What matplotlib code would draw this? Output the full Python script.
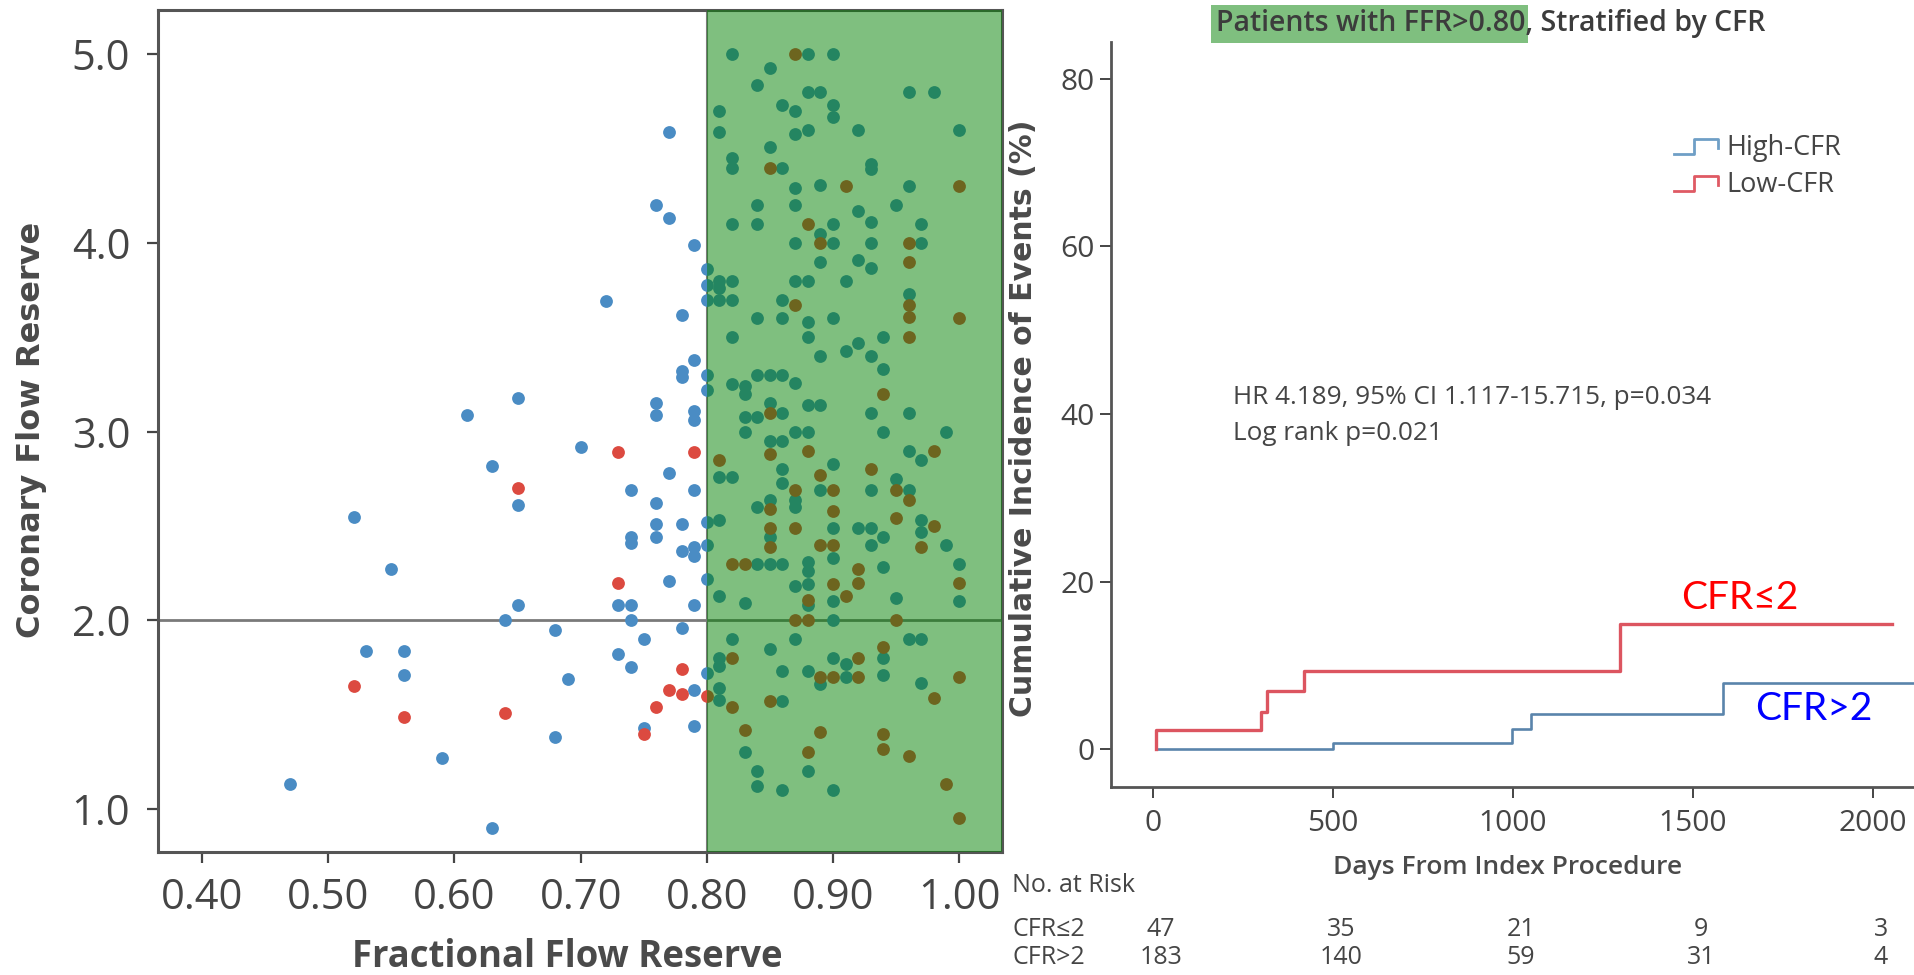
import matplotlib
matplotlib.use("Agg")
import matplotlib.pyplot as plt
from matplotlib import font_manager
from matplotlib.lines import Line2D
from matplotlib.patches import Rectangle

# --- DATA: scatter (FFR vs CFR) ---
# points with event-free outcome (blue) and with events (red)
ffr_blue = [0.77, 0.76, 0.77, 0.79, 0.72, 0.78, 0.80, 0.80, 0.80, 0.79, 0.78, 0.78, 0.80, 0.80,
            0.65, 0.61, 0.76, 0.76, 0.79, 0.79, 0.70, 0.63, 0.77, 0.74, 0.76, 0.79, 0.65, 0.52,
            0.76, 0.76, 0.78, 0.74, 0.74, 0.79, 0.78, 0.79, 0.80, 0.80, 0.55, 0.77, 0.80, 0.65,
            0.73, 0.74, 0.79, 0.64, 0.74, 0.68, 0.78, 0.75, 0.53, 0.56, 0.73, 0.56, 0.74, 0.69,
            0.79, 0.80, 0.75, 0.79, 0.68, 0.59, 0.47, 0.63,
            # FFR > 0.80
            0.82, 0.88, 0.90, 0.85, 0.84, 0.88, 0.89, 0.96, 0.98, 0.86, 0.87, 0.90, 0.90, 0.81,
            0.81, 0.87, 0.88, 0.92, 1.00, 0.85, 0.82, 0.82, 0.86, 0.93, 0.93, 0.87, 0.89, 0.96,
            0.84, 0.87, 0.92, 0.95, 0.82, 0.84, 0.90, 0.93, 0.97, 0.89, 0.87, 0.90, 0.93, 0.97,
            0.89, 0.92, 0.93, 0.81, 0.82, 0.87, 0.88, 0.91, 0.81,
            0.81, 0.82, 0.86, 0.96, 0.84, 0.86, 0.88, 0.90, 0.82, 0.88, 0.94, 0.91, 0.92, 0.93,
            0.89, 0.94, 0.82, 0.83, 0.83, 0.84, 0.85, 0.86, 0.87, 0.85, 0.86, 0.83, 0.84, 0.83,
            0.88, 0.89, 0.93, 0.96, 0.87, 0.88, 0.94, 0.99, 0.85, 0.86, 0.96, 0.97, 0.90, 0.86,
            0.86, 0.81, 0.82, 0.89, 0.93, 0.95, 0.96, 0.84, 0.85, 0.87, 0.87, 0.97, 0.97, 0.81,
            0.85, 0.90, 0.92, 0.93, 0.94, 0.93, 0.99,
            0.84, 0.85, 0.86, 0.88, 0.88, 0.90, 0.94, 1.00, 1.00, 0.87, 0.88, 0.81, 0.83, 0.88,
            0.90, 0.95, 0.90, 0.82, 0.87, 0.85, 0.96, 0.97, 0.81, 0.81, 0.90, 0.91, 0.94, 0.86,
            0.88, 0.89, 0.91, 0.94, 0.97, 0.81, 0.81, 0.86, 0.83, 0.84, 0.88, 0.84, 0.86, 0.90]
cfr_blue = [4.59, 4.20, 4.13, 3.99, 3.69, 3.62, 3.86, 3.78, 3.70, 3.38, 3.32, 3.29, 3.30, 3.22,
            3.18, 3.09, 3.15, 3.09, 3.11, 3.06, 2.92, 2.82, 2.78, 2.69, 2.62, 2.69, 2.61, 2.55,
            2.51, 2.44, 2.51, 2.44, 2.41, 2.39, 2.37, 2.34, 2.40, 2.52, 2.27, 2.21, 2.22, 2.08,
            2.08, 2.08, 2.08, 2.00, 2.00, 1.95, 1.96, 1.90, 1.84, 1.84, 1.82, 1.71, 1.75, 1.69,
            1.63, 1.72, 1.43, 1.44, 1.38, 1.27, 1.13, 0.90,
            5.00, 5.00, 5.00, 4.93, 4.84, 4.80, 4.80, 4.80, 4.80, 4.73, 4.70, 4.73, 4.67, 4.70,
            4.59, 4.58, 4.60, 4.60, 4.60, 4.51, 4.45, 4.40, 4.40, 4.42, 4.39, 4.29, 4.31, 4.30,
            4.20, 4.20, 4.17, 4.20, 4.10, 4.10, 4.10, 4.11, 4.10, 4.05, 4.00, 4.00, 4.00, 4.00,
            3.90, 3.91, 3.87, 3.80, 3.80, 3.80, 3.80, 3.80, 3.76,
            3.70, 3.70, 3.70, 3.73, 3.60, 3.60, 3.58, 3.60, 3.50, 3.50, 3.50, 3.43, 3.47, 3.40,
            3.40, 3.33, 3.25, 3.24, 3.20, 3.30, 3.30, 3.30, 3.26, 3.15, 3.10, 3.08, 3.08, 3.00,
            3.14, 3.14, 3.10, 3.10, 3.00, 3.00, 3.00, 3.00, 2.95, 2.95, 2.90, 2.85, 2.83, 2.80,
            2.73, 2.76, 2.76, 2.69, 2.69, 2.75, 2.69, 2.60, 2.64, 2.64, 2.60, 2.53, 2.47, 2.53,
            2.44, 2.49, 2.49, 2.49, 2.44, 2.40, 2.40,
            2.30, 2.30, 2.30, 2.31, 2.26, 2.33, 2.28, 2.30, 2.10, 2.18, 2.19, 2.13, 2.09, 2.08,
            2.10, 2.12, 2.00, 1.90, 1.90, 1.85, 1.90, 1.90, 1.80, 1.76, 1.80, 1.77, 1.80, 1.73,
            1.73, 1.66, 1.70, 1.71, 1.67, 1.64, 1.58, 1.57, 1.30, 1.20, 1.20, 1.12, 1.10, 1.10]

ffr_red = [0.73, 0.79, 0.65, 0.73, 0.78, 0.52, 0.77, 0.78, 0.80, 0.56, 0.64, 0.76, 0.75,
           # FFR > 0.80
           0.87, 0.85, 0.91, 1.00, 0.88, 0.89, 0.96, 0.96,
           0.87, 0.96, 0.96, 1.00, 0.96, 0.94, 0.85, 0.85, 0.88, 0.98, 0.81, 0.89, 0.90, 0.87,
           0.93, 0.95, 0.96, 0.85, 0.90, 0.95, 0.98, 0.85, 0.85, 0.87, 0.89, 0.90, 0.97,
           0.82, 0.83, 0.92, 0.92, 1.00, 0.90, 0.88, 0.91, 0.87, 0.88, 0.95, 0.94, 0.82, 0.92,
           0.89, 0.90, 0.92, 1.00, 0.82, 0.85, 0.98, 0.83, 0.89, 0.94, 0.94, 0.88, 0.96, 0.99,
           1.00]
cfr_red = [2.89, 2.89, 2.70, 2.20, 1.74, 1.65, 1.63, 1.61, 1.60, 1.49, 1.51, 1.54, 1.40,
           5.00, 4.40, 4.30, 4.30, 4.10, 4.00, 4.00, 3.90,
           3.67, 3.67, 3.61, 3.60, 3.50, 3.20, 3.10, 2.88, 2.90, 2.90, 2.85, 2.77, 2.69, 2.69,
           2.80, 2.69, 2.64, 2.59, 2.58, 2.54, 2.50, 2.49, 2.39, 2.49, 2.40, 2.40, 2.39,
           2.30, 2.30, 2.27, 2.20, 2.20, 2.19, 2.11, 2.13, 2.00, 2.00, 2.00, 1.86, 1.80, 1.80,
           1.70, 1.70, 1.70, 1.70, 1.54, 1.57, 1.59, 1.42, 1.41, 1.40, 1.32, 1.30, 1.28, 1.13,
           0.95]

ffr_ticks = [0.40, 0.50, 0.60, 0.70, 0.80, 0.90, 1.00]
cfr_ticks = [1.0, 2.0, 3.0, 4.0, 5.0]

# --- DATA: cumulative incidence curves ---
high_days = [7, 499, 997, 1049, 1583, 2200]
high_inc = [0.0, 0.8, 2.4, 4.25, 7.9, 7.9]
low_days = [7, 7, 300, 316, 419, 1297, 2053]
low_inc = [0.0, 2.3, 4.5, 7.0, 9.4, 15.0, 15.0]

day_ticks = [0, 500, 1000, 1500, 2000]
inc_ticks = [0, 20, 40, 60, 80]
risk_low = [47, 35, 21, 9, 3]
risk_high = [183, 140, 59, 31, 4]

# --- STYLE ---
W, H = 1915, 975
BLUE = '#4a8cc4'
RED = '#dc4a40'
KM_BLUE = '#5a84ab'
KM_RED = '#dc5560'
GRAY = '#454545'
SPINE = '#555555'
GREEN = (0.0, 0.5, 0.0)

names = {f.name for f in font_manager.fontManager.ttflist}
SANS = 'Open Sans' if 'Open Sans' in names else 'DejaVu Sans'
NARROW = 'Liberation Sans Narrow' if 'Liberation Sans Narrow' in names else SANS
plt.rcParams['font.family'] = [SANS, 'DejaVu Sans']

fig = plt.figure(figsize=(W / 100, H / 100), dpi=100)


def fx(px):
    return px / W


def fy(py):
    return 1 - py / H


# ---------------- left panel: scatter ----------------
ax1 = fig.add_axes([fx(158), fy(852), fx(1002 - 158), (852 - 10) / H])
ax1.scatter(ffr_blue, cfr_blue, s=85, color=BLUE, linewidths=0, zorder=2)
ax1.scatter(ffr_red, cfr_red, s=85, color=RED, linewidths=0, zorder=2)
ax1.axhline(2.0, color='#7a7a7a', lw=2.0, zorder=1.5)
ax1.axvline(0.80, color='#7a7a7a', lw=1.5, zorder=1.5)
ax1.axvspan(0.80, 1.034, color=GREEN, alpha=0.5, lw=0, zorder=3)
ax1.set_xlim(0.365, 1.034)
ax1.set_ylim(0.772, 5.235)
ax1.set_xticks(ffr_ticks)
ax1.set_xticklabels(['%.2f' % v for v in ffr_ticks])
ax1.set_yticks(cfr_ticks)
ax1.set_yticklabels(['%.1f' % v for v in cfr_ticks])
ax1.tick_params(axis='both', labelsize=30, colors=GRAY, length=8, width=1.6)
ax1.tick_params(axis='x', pad=10)
ax1.tick_params(axis='y', pad=12)
for sp in ax1.spines.values():
    sp.set_color(SPINE)
    sp.set_linewidth(2.2)

fig.text(fx(32), fy(430), 'Coronary Flow Reserve', rotation=90, ha='center', va='center',
         fontsize=23, fontweight='bold', color='#4a4a4a', family=['DejaVu Sans'])
fig.text(fx(567), fy(957), 'Fractional Flow Reserve', ha='center', va='center',
         fontsize=26.3, fontweight='bold', color='#4a4a4a', family=[NARROW, 'DejaVu Sans'])

# ---------------- right panel: cumulative incidence ----------------
ax2 = fig.add_axes([fx(1111), fy(787), 1 - fx(1111), (787 - 42) / H])
ax2.step(high_days, high_inc, where='post', color=KM_BLUE, lw=1.9)
ax2.step(low_days, low_inc, where='post', color=KM_RED, lw=2.4)
ax2.set_xlim(-117, 2117)
ax2.set_ylim(-4.5, 84.4)
ax2.set_xticks(day_ticks)
ax2.set_yticks(inc_ticks)
ax2.tick_params(axis='both', labelsize=21.5, colors=GRAY, length=8, width=1.4)
ax2.tick_params(axis='x', pad=8)
ax2.tick_params(axis='y', pad=4)
for side in ('top', 'right'):
    ax2.spines[side].set_visible(False)
for side in ('left', 'bottom'):
    ax2.spines[side].set_color(SPINE)
    ax2.spines[side].set_linewidth(2.0)

fig.text(fx(1024), fy(418), 'Cumulative Incidence of Events (%)', rotation=90,
         ha='center', va='center', fontsize=21.5, fontweight='bold', color='#4a4a4a',
         family=['DejaVu Sans'])
fig.text(fx(1508), fy(867), 'Days From Index Procedure', ha='center', va='center',
         fontsize=19, fontweight='semibold', color='#4a4a4a')

ax2.text(222, 42.0, 'HR 4.189, 95% CI 1.117-15.715, p=0.034', ha='left', va='center',
         fontsize=18.8, color=GRAY)
ax2.text(222, 37.7, 'Log rank p=0.021', ha='left', va='center', fontsize=18.8, color=GRAY)

ax2.text(1630, 18.1, 'CFR≤2', ha='center', va='center', fontsize=28, color='red',
         family=['Lato', 'DejaVu Sans'])
ax2.text(1836, 4.76, 'CFR>2', ha='center', va='center', fontsize=28, color='blue',
         family=['Lato', 'DejaVu Sans'])

# legend with step icons
for (y_lo, y_hi, y_txt, col, lab) in [(154, 139, 148, '#6f9fc6', 'High-CFR'),
                                      (191, 176, 185, '#df5a64', 'Low-CFR')]:
    xs = [fx(1674), fx(1694), fx(1694), fx(1718), fx(1718)]
    ys = [fy(y_lo), fy(y_lo), fy(y_hi), fy(y_hi), fy(y_hi + 9)]
    fig.add_artist(Line2D(xs, ys, color=col, lw=2.0, transform=fig.transFigure))
    fig.text(fx(1726), fy(y_txt), lab, ha='left', va='center', fontsize=19.5, color=GRAY)

# number at risk table
fig.text(fx(1012), fy(885), 'No. at Risk', ha='left', va='center', fontsize=18, color=GRAY)
fig.text(fx(1013), fy(930), 'CFR≤2', ha='left', va='center', fontsize=18, color=GRAY,
         family=[SANS, 'DejaVu Sans'])
fig.text(fx(1013), fy(958), 'CFR>2', ha='left', va='center', fontsize=18, color=GRAY)
for d, a, b in zip(day_ticks, risk_low, risk_high):
    xpix = ax2.transData.transform((d, 0))[0] + 8
    fig.text(fx(xpix), fy(930), str(a), ha='center', va='center', fontsize=18, color=GRAY)
    fig.text(fx(xpix), fy(958), str(b), ha='center', va='center', fontsize=18, color=GRAY)

# title with green highlight over the first part
title_full = 'Patients with FFR>0.80, Stratified by CFR'
title_part = 'Patients with FFR>0.80'
t_full = fig.text(fx(1216), fy(24), title_full, ha='left', va='center', fontsize=20.5,
                  fontweight='semibold', color='#3c3c3c')
t_part = fig.text(fx(1216), fy(24), title_part, ha='left', va='center', fontsize=20.5,
                  fontweight='semibold', alpha=0)
fig.canvas.draw()
bb = t_part.get_window_extent(fig.canvas.get_renderer())
fig.add_artist(Rectangle((fx(bb.x0 - 5), fy(43)), fx(bb.width + 8), 38 / H,
                         transform=fig.transFigure, facecolor=GREEN, alpha=0.5,
                         edgecolor='none'))

fig.savefig('out.png', dpi=100)
